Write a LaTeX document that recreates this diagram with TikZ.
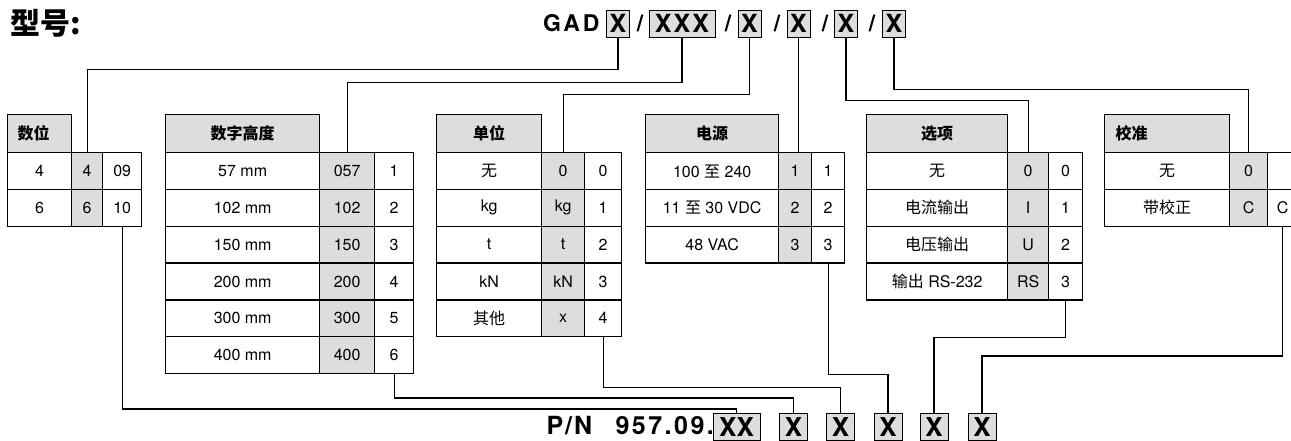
\documentclass[tikz,border=0pt]{standalone}
\usepackage{fontspec}
\setmainfont{TeX Gyre Heros}
\newfontfamily\cjk{Noto Sans CJK SC}
\usepackage{xcolor}
\usetikzlibrary{positioning,calc}
\definecolor{cellgray}{HTML}{DDDDDD}

\begin{document}
\begin{tikzpicture}[
  x=1pt, y=-1pt,
  cell/.style={draw,line width=1.3pt,anchor=north west,inner sep=0pt,minimum height=36.8pt,font=\fontsize{16}{18}\selectfont},
  grey/.style={cell,fill=cellgray},
  head/.style={draw,line width=1.3pt,fill=cellgray,anchor=north west,inner sep=0pt,minimum height=38pt,font=\cjk\bfseries\fontsize{16}{18}\selectfont},
  codebox/.style={draw,line width=1pt,fill=cellgray,inner sep=0pt,minimum width=23pt,minimum height=27pt,font=\bfseries\fontsize{25}{25}\selectfont},
  pnbox/.style={codebox,minimum width=28pt,minimum height=26.5pt,anchor=north,font=\bfseries\fontsize{26}{26}\selectfont},
  big/.style={font=\bfseries\fontsize{23}{23}\selectfont\addfontfeature{LetterSpace=12}},
  conn/.style={draw,line width=1.3pt},
]
  \clip (0,0) rectangle (1291,440);

  % model code
  \node[anchor=west,font=\cjk\bfseries\fontsize{30}{30}\selectfont] (title) at (7,23.5) {型号:};
  \node[big,anchor=east] (gad) at (603,23.5) {GAD};
  \node[codebox] (m1) at (618,23.5) {X};
  \node[big] (s1) at (640,23.5) {/};
  \node[codebox,minimum width=66pt] (m2) at (682,23.5) {\addfontfeature{LetterSpace=8}XXX};
  \node[big] (s2) at (728,23.5) {/};
  \node[codebox] (m3) at (749.5,23.5) {X};
  \node[big] (s3) at (777,23.5) {/};
  \node[codebox] (m4) at (798.5,23.5) {X};
  \node[big] (s4) at (825,23.5) {/};
  \node[codebox] (m5) at (846,23.5) {X};
  \node[big] (s5) at (872,23.5) {/};
  \node[codebox] (m6) at (894,23.5) {X};

  % digits
  \node[head,minimum width=64pt,text width=44pt,align=left] (dg-h) at (7,114) {数位};
  \foreach \g/\c [count=\i] in {4/09, 6/10} {
    \node[cell,minimum width=64pt] (dg-l\i) at (7,{152+36.8*(\i-1)}) {\g};
    \node[grey,minimum width=31pt] (dg-g\i) at (71,{152+36.8*(\i-1)}) {\g};
    \node[cell,minimum width=39pt] (dg-c\i) at (102,{152+36.8*(\i-1)}) {\c};
  }

  % digit height
  \node[head,minimum width=154pt] (ht-h) at (165,114) {数字高度};
  \foreach \l/\g/\c [count=\i] in {57 mm/057/1, 102 mm/102/2, 150 mm/150/3, 200 mm/200/4, 300 mm/300/5, 400 mm/400/6} {
    \node[cell,minimum width=154pt] (ht-l\i) at (165,{152+36.8*(\i-1)}) {\l};
    \node[grey,minimum width=55pt] (ht-g\i) at (319,{152+36.8*(\i-1)}) {\g};
    \node[cell,minimum width=39pt] (ht-c\i) at (374,{152+36.8*(\i-1)}) {\c};
  }

  % unit
  \node[head,minimum width=105pt] (un-h) at (436,114) {单位};
  \foreach \l/\g/\c [count=\i] in {{\cjk 无}/0/0, kg/kg/1, t/t/2, kN/kN/3, {\cjk 其他}/x/4} {
    \node[cell,minimum width=105pt] (un-l\i) at (436,{152+36.8*(\i-1)}) {\l};
    \node[grey,minimum width=43pt] (un-g\i) at (541,{152+36.8*(\i-1)}) {\g};
    \node[cell,minimum width=37pt] (un-c\i) at (584,{152+36.8*(\i-1)}) {\c};
  }

  % power supply
  \node[head,minimum width=133pt] (pw-h) at (645,114) {电源};
  \foreach \l/\g/\c [count=\i] in {{100 {\cjk 至} 240}/1/1, {11 {\cjk 至} 30 VDC}/2/2, 48 VAC/3/3} {
    \node[cell,minimum width=133pt] (pw-l\i) at (645,{152+36.8*(\i-1)}) {\l};
    \node[grey,minimum width=33pt] (pw-g\i) at (778,{152+36.8*(\i-1)}) {\g};
    \node[cell,minimum width=33pt] (pw-c\i) at (811,{152+36.8*(\i-1)}) {\c};
  }

  % options
  \node[head,minimum width=141pt] (op-h) at (866,114) {选项};
  \foreach \l/\g/\c [count=\i] in {{\cjk 无}/0/0, {\cjk 电流输出}/I/1, {\cjk 电压输出}/U/2, {{\cjk 输出} RS-232}/RS/3} {
    \node[cell,minimum width=141pt] (op-l\i) at (866,{152+36.8*(\i-1)}) {\l};
    \node[grey,minimum width=41pt] (op-g\i) at (1007,{152+36.8*(\i-1)}) {\g};
    \node[cell,minimum width=34pt] (op-c\i) at (1048,{152+36.8*(\i-1)}) {\c};
  }

  % calibration
  \node[head,minimum width=125pt,text width=103pt,align=left] (cb-h) at (1104,114) {校准};
  \foreach \l/\g/\c [count=\i] in {{\cjk 无}/0/{}, {\cjk 带校正}/C/C} {
    \node[cell,minimum width=125pt] (cb-l\i) at (1104,{152+36.8*(\i-1)}) {\l};
    \node[grey,minimum width=38pt] (cb-g\i) at (1229,{152+36.8*(\i-1)}) {\g};
    \node[cell,minimum width=30pt] (cb-c\i) at (1267,{152+36.8*(\i-1)}) {\c};
  }

  % part number
  \node[big,anchor=west,font=\bfseries\fontsize{25}{25}\selectfont\addfontfeature{LetterSpace=8}] (pn) at (543,426) {P/N};
  \node[big,anchor=west,font=\bfseries\fontsize{25}{25}\selectfont\addfontfeature{LetterSpace=10}] (pnum) at (612,426) {957.09.};
  \node[pnbox,minimum width=47pt] (p1) at (736.5,413) {XX};
  \node[pnbox] (p2) at (793.5,413) {X};
  \node[pnbox] (p3) at (840.5,413) {X};
  \node[pnbox] (p4) at (888,413) {X};
  \node[pnbox] (p5) at (934,413) {X};
  \node[pnbox] (p6) at (982,413) {X};

  \draw[conn] (m1.south) -- ++(0,32) -| (dg-g1.north);
  \draw[conn] (m2.south) -- ++(0,45) -| (ht-g1.north);
  \draw[conn] (m3.south) -- ++(0,57) -| (un-g1.north);
  \draw[conn] (m4.south) -- (m4.south |- pw-g1.north);
  \draw[conn] (m5.south) -- ++(0,63) -| (op-g1.north);
  \draw[conn] (m6.south) -- ++(0,52) -| (cb-g1.north);

  \draw[conn] (dg-c2.south) -- ++(0,182) -| (p1.north);
  \draw[conn] (ht-c6.south) -- ++(0,24) -| (p2.north);
  \draw[conn] (un-c5.south) -- ++(0,50) -| (p3.north);
  \draw[conn] (pw-c3.south) -- ++(0,111) -| (p4.north);
  \draw[conn] (op-c4.south) -- ++(0,37) -| (p5.north);
  \draw[conn] (cb-c2.south) -- ++(0,129) -| (p6.north);
\end{tikzpicture}
\end{document}
